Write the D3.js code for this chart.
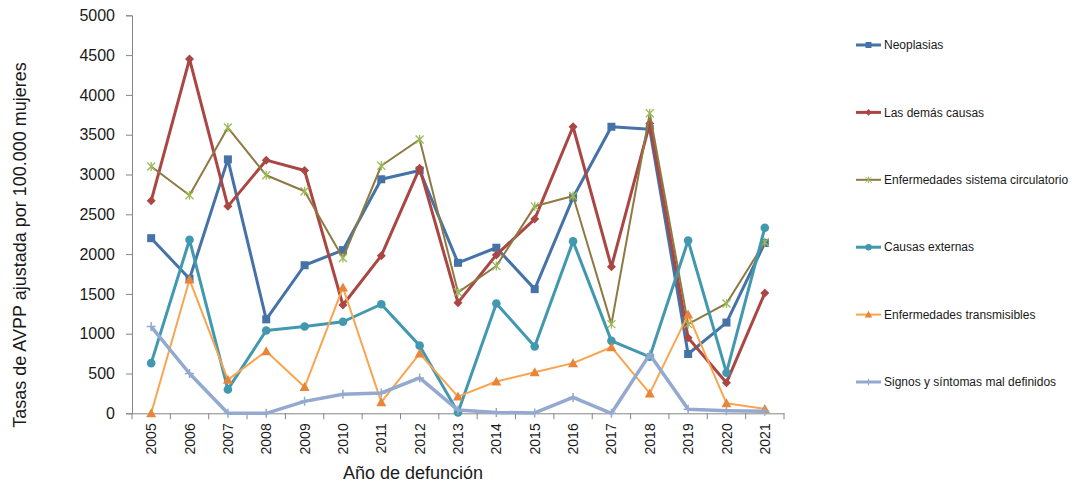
<!DOCTYPE html>
<html>
<head>
<meta charset="utf-8">
<script src="https://cdn.jsdelivr.net/npm/d3@7"></script>
<style>
  body { margin: 0; background: #fff; }
  svg text { font-family: "Liberation Sans", Arial, sans-serif; fill: #1a1a1a; }
</style>
</head>
<body>
<div id="chart"></div>
<script>
var years = [2005, 2006, 2007, 2008, 2009, 2010, 2011, 2012, 2013, 2014, 2015, 2016, 2017, 2018, 2019, 2020, 2021];
var yTicks = [0, 500, 1000, 1500, 2000, 2500, 3000, 3500, 4000, 4500, 5000];

var neoplasias = [2200, 1690, 3190, 1180, 1860, 2050, 2940, 3050, 1890, 2080, 1560, 2710, 3600, 3570, 745, 1140, 2140];
var lasDemas = [2670, 4450, 2600, 3180, 3050, 1360, 1980, 3080, 1390, 1990, 2440, 3600, 1840, 3640, 950, 385, 1510];
var circulatorio = [3100, 2740, 3590, 2990, 2790, 1950, 3110, 3440, 1520, 1850, 2600, 2730, 1120, 3770, 1120, 1380, 2150];
var externas = [630, 2180, 300, 1040, 1090, 1150, 1370, 850, 10, 1380, 840, 2160, 910, 710, 2170, 510, 2330];
var transmisibles = [0, 1680, 420, 780, 330, 1580, 140, 750, 210, 400, 515, 630, 830, 250, 1240, 125, 55];
var signos = [1090, 500, 0, 0, 150, 240, 255, 445, 40, 10, 5, 200, 0, 740, 50, 33, 25];

var seriesNames = ["Neoplasias", "Las demás causas", "Enfermedades sistema circulatorio",
    "Causas externas", "Enfermedades transmisibles", "Signos y síntomas mal definidos"];

const WIDTH = 1072;
const HEIGHT = 487;
const PLOT_LEFT = 132;
const PLOT_RIGHT = 784;
const PLOT_TOP = 15.3;
const PLOT_BOTTOM = 413.3;

var series = [
    { name: seriesNames[0], values: neoplasias, line: "#4572A7", marker: "#4572A7", width: 3, shape: "square" },
    { name: seriesNames[1], values: lasDemas, line: "#AA4643", marker: "#AA4643", width: 3, shape: "diamond" },
    { name: seriesNames[2], values: circulatorio, line: "#8F7943", marker: "#9BBB59", width: 2, shape: "x" },
    { name: seriesNames[3], values: externas, line: "#4198AF", marker: "#4198AF", width: 3, shape: "circle" },
    { name: seriesNames[4], values: transmisibles, line: "#F9A54F", marker: "#E8853A", width: 2, shape: "triangle" },
    { name: seriesNames[5], values: signos, line: "#93A9CF", marker: "#93A9CF", width: 3.5, shape: "plus" }
];

var translate = function (x, y) {
    return "translate(" + x + "," + y + ")";
};

var drawMarker = function (g, shape, color) {
    if (shape === "square") {
        g.append("rect").attr("x", -4).attr("y", -4).attr("width", 8).attr("height", 8).attr("fill", color);
    } else if (shape === "diamond") {
        g.append("path").attr("d", "M0,-4.5L4.5,0L0,4.5L-4.5,0Z").attr("fill", color);
    } else if (shape === "circle") {
        g.append("circle").attr("r", 4.3).attr("fill", color);
    } else if (shape === "triangle") {
        g.append("path").attr("d", "M0,-5L5,4L-5,4Z").attr("fill", color);
    } else if (shape === "x") {
        g.append("path").attr("d", "M-4,-4L4,4M-4,4L4,-4M0,-4.5L0,4.5")
            .attr("stroke", color).attr("stroke-width", 1.3).attr("fill", "none");
    } else if (shape === "plus") {
        g.append("path").attr("d", "M-4.5,0L4.5,0M0,-4.5L0,4.5")
            .attr("stroke", color).attr("stroke-width", 1.5).attr("fill", "none");
    }
};

var loadChart = function () {
    var svg = d3.select("#chart").append("svg")
        .attr("width", WIDTH)
        .attr("height", HEIGHT);

    var xScale = d3.scaleBand()
        .domain(years)
        .range([PLOT_LEFT, PLOT_RIGHT])
        .padding(0);

    var yScale = d3.scaleLinear()
        .domain([0, 5000])
        .range([PLOT_BOTTOM, PLOT_TOP]);

    var xCenter = function (year) {
        return xScale(year) + xScale.bandwidth() / 2;
    };

    // y axis
    var yAxis = d3.axisLeft(yScale).tickValues(yTicks).tickFormat(d3.format("d"))
        .tickSize(6).tickPadding(11);
    var gy = svg.append("g")
        .attr("transform", translate(PLOT_LEFT, 0))
        .call(yAxis);
    gy.select(".domain").attr("stroke", "#868686");
    gy.selectAll(".tick line").attr("stroke", "#868686");
    gy.selectAll(".tick text").style("font-size", "16px").attr("fill", "#1a1a1a");

    // x axis (labels centred in each category, ticks between categories)
    var xAxis = d3.axisBottom(xScale).tickSize(0);
    var gx = svg.append("g")
        .attr("transform", translate(0, PLOT_BOTTOM))
        .call(xAxis);
    gx.select(".domain").attr("stroke", "#868686");
    gx.selectAll(".tick text")
        .style("font-size", "14px")
        .attr("fill", "#1a1a1a")
        .attr("transform", "rotate(-90)")
        .attr("text-anchor", "end")
        .attr("x", -10)
        .attr("y", 0)
        .attr("dy", "0.36em");

    var boundaries = years.map(function (d) { return xScale(d); }).concat([PLOT_RIGHT]);
    svg.append("g").selectAll("line")
        .data(boundaries)
        .enter()
        .append("line")
        .attr("x1", function (d) { return d; })
        .attr("x2", function (d) { return d; })
        .attr("y1", PLOT_BOTTOM)
        .attr("y2", PLOT_BOTTOM + 6)
        .attr("stroke", "#868686");

    // series
    var line = d3.line()
        .x(function (d, i) { return xCenter(years[i]); })
        .y(function (d) { return yScale(d); });

    series.forEach(function (s) {
        var g = svg.append("g");
        g.append("path")
            .attr("d", line(s.values))
            .attr("fill", "none")
            .attr("stroke", s.line)
            .attr("stroke-width", s.width)
            .attr("stroke-linejoin", "round");
        s.values.forEach(function (v, i) {
            var m = g.append("g").attr("transform", translate(xCenter(years[i]), yScale(v)));
            drawMarker(m, s.shape, s.marker);
        });
    });

    // axis titles
    svg.append("text")
        .attr("transform", translate(26, 245) + " rotate(-90)")
        .attr("text-anchor", "middle")
        .style("font-size", "18px")
        .text("Tasas de AVPP ajustada por 100.000 mujeres");

    svg.append("text")
        .attr("x", 413)
        .attr("y", 479)
        .attr("text-anchor", "middle")
        .style("font-size", "18px")
        .text("Año de defunción");

    // legend
    var legend = svg.append("g").selectAll("g")
        .data(series)
        .enter()
        .append("g")
        .attr("transform", function (d, i) { return translate(856, 45 + i * 67.4); });

    legend.append("line")
        .attr("x1", 0).attr("x2", 25)
        .attr("stroke", function (d) { return d.line; })
        .attr("stroke-width", function (d) { return Math.min(d.width, 3); });

    legend.each(function (d) {
        var m = d3.select(this).append("g").attr("transform", translate(12.5, 0) + " scale(0.75)");
        drawMarker(m, d.shape, d.marker);
    });

    legend.append("text")
        .attr("x", 28)
        .attr("dy", "0.35em")
        .style("font-size", "12px")
        .text(function (d) { return d.name; });
};

window.onload = loadChart;
</script>
</body>
</html>
